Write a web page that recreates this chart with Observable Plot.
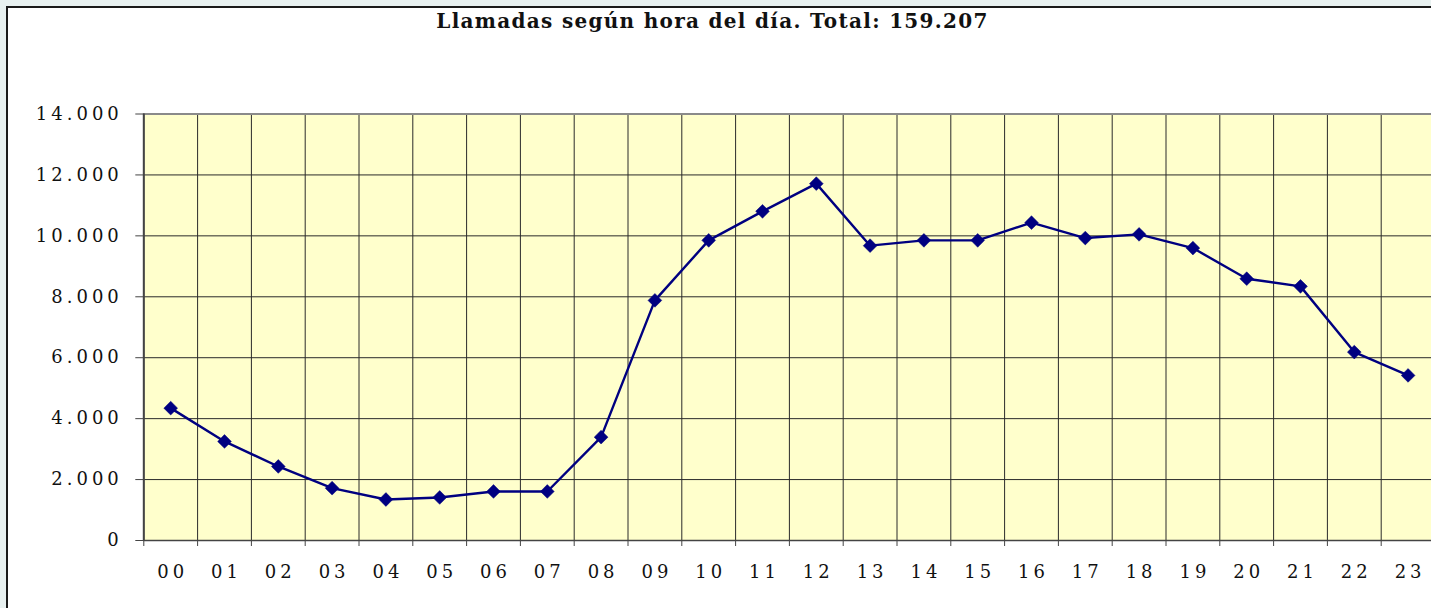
<!DOCTYPE html>
<html>
<head>
<meta charset="utf-8">
<script src="https://cdn.jsdelivr.net/npm/d3@7"></script>
<script src="https://cdn.jsdelivr.net/npm/@observablehq/plot@0.6"></script>
<style>
  html, body { margin: 0; padding: 0; width: 1431px; height: 608px; overflow: hidden; background: #e8f1f0; }
  #panel { position: absolute; left: 6px; top: 6px; width: 1500px; height: 700px; background: #fff; border: 2px solid #1a1a1a; box-sizing: border-box; }
  #title { position: absolute; left: 0; top: 10.5px; width: 1425px; text-align: center; font-family: "DejaVu Serif", serif; font-weight: bold; font-size: 20px; line-height: 20px; color: #111; letter-spacing: 1.3px; }
  #chart { position: absolute; left: 0; top: 0; width: 1440px; height: 608px; }
  #chart svg { max-width: none !important; }
  #chart svg [aria-label="x-axis tick label"] text, #chart svg [aria-label="y-axis tick label"] text { letter-spacing: 4px; }
</style>
</head>
<body>
<div id="panel"></div>
<div id="title">Llamadas según hora del día. Total: 159.207</div>
<div id="chart"></div>
<script>
const hours = ["00","01","02","03","04","05","06","07","08","09","10","11","12","13","14","15","16","17","18","19","20","21","22","23"];
const calls = [4345,3251,2430,1718,1346,1412,1609,1609,3393,7882,9852,10805,11714,9678,9852,9852,10433,9928,10049,9599,8594,8342,6184,5419];
const yTicks = [0,2000,4000,6000,8000,10000,12000,14000];

const data = hours.map((h, i) => ({hour: h, pos: i + 0.5, value: calls[i]}));
const centers = hours.map((h, i) => i + 0.5);
const edges = d3.range(hours.length + 1);
const fmt = d => d === 0 ? "0" : d3.format(",")(d).replace(/,/g, ".");

const chart = Plot.plot({
  width: 1440,
  height: 608,
  marginTop: 113.5,
  marginBottom: 68,
  marginLeft: 143.3,
  marginRight: 5.5,
  style: {background: "transparent", fontFamily: "DejaVu Serif, serif", fontSize: "18px", color: "#111", overflow: "visible", maxWidth: "none"},
  x: {domain: [0, 24], label: null},
  y: {domain: [0, 14000], label: null},
  marks: [
    Plot.frame({fill: "#ffffcc", stroke: null}),
    Plot.gridY(yTicks, {stroke: "#2a2a2a", strokeOpacity: 1, strokeWidth: 1}),
    Plot.gridX(edges, {stroke: "#2a2a2a", strokeOpacity: 1, strokeWidth: 1}),
    Plot.ruleY([14000], {stroke: "#8a8a8a", strokeWidth: 2}),
    Plot.ruleY([0], {stroke: "#444", strokeWidth: 1.5}),
    Plot.ruleX([0], {stroke: "#444", strokeWidth: 2}),
    Plot.axisX(edges, {tickSize: 6, tickFormat: () => "", stroke: "#444", label: null}),
    Plot.axisX(centers, {tickSize: 0, tickPadding: 25, tickFormat: d => hours[Math.floor(d)], label: null, dx: 2}),
    Plot.axisY(yTicks, {tickSize: 8, tickPadding: 13, tickFormat: fmt, stroke: "#444", label: null, dx: 0}),
    Plot.line(data, {x: "pos", y: "value", stroke: "#000080", strokeWidth: 2.4}),
    Plot.dot(data, {x: "pos", y: "value", symbol: "diamond2", r: 6.2, fill: "#000080", stroke: "#000080", strokeWidth: 0.5})
  ]
});
document.getElementById("chart").appendChild(chart);
</script>
</body>
</html>
